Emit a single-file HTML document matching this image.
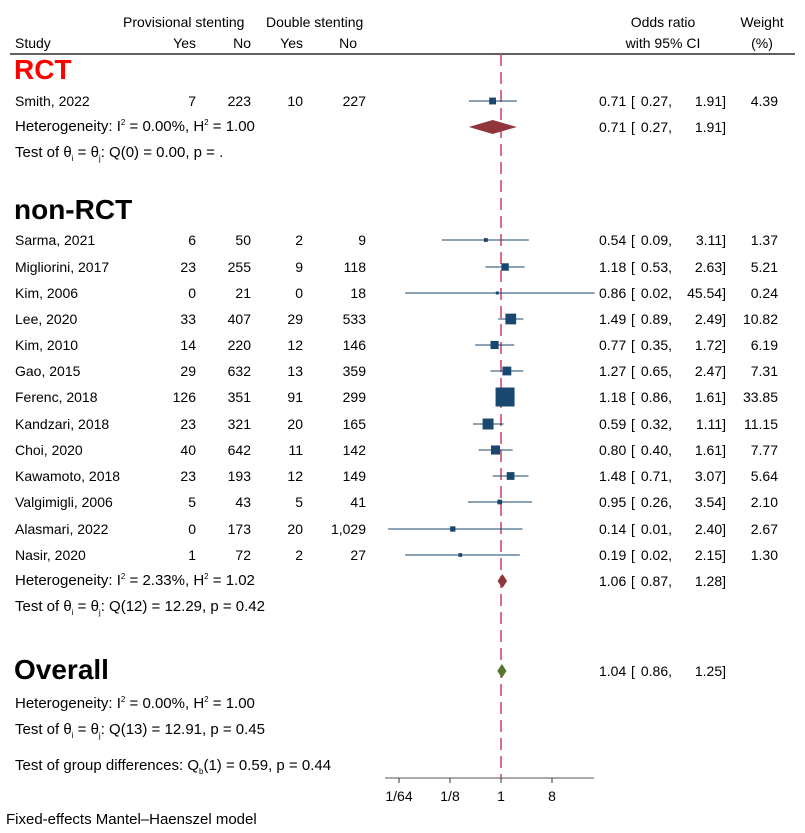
<!DOCTYPE html>
<html><head><meta charset="utf-8"><style>
body{margin:0;background:#fff}
svg{display:block;font-family:"Liberation Sans",Arial,sans-serif}
</style></head><body>
<svg id="c" width="805" height="833" font-size="14" fill="#000">
<g>
<text x="123" y="27">Provisional stenting</text>
<text x="266" y="27">Double stenting</text>
<text x="15" y="48">Study</text>
<text x="196" y="48" text-anchor="end">Yes</text>
<text x="251" y="48" text-anchor="end">No</text>
<text x="303" y="48" text-anchor="end">Yes</text>
<text x="357" y="48" text-anchor="end">No</text>
<text x="663" y="27" text-anchor="middle">Odds ratio</text>
<text x="663" y="48" text-anchor="middle">with 95% CI</text>
<text x="762" y="27" text-anchor="middle">Weight</text>
<text x="762" y="48" text-anchor="middle">(%)</text>
<line x1="10" y1="54" x2="795" y2="54" stroke="#000" stroke-width="1.2"/>
</g>
<g id="marks"></g>
<g id="txt"></g>
</svg>
<script>
const studies=["Smith, 2022","Sarma, 2021","Migliorini, 2017","Kim, 2006","Lee, 2020","Kim, 2010","Gao, 2015","Ferenc, 2018","Kandzari, 2018","Choi, 2020","Kawamoto, 2018","Valgimigli, 2006","Alasmari, 2022","Nasir, 2020"];
const psYes=[7,6,23,0,33,14,29,126,23,40,23,5,0,1];
const psNo=[223,50,255,21,407,220,632,351,321,642,193,43,173,72];
const dsYes=[10,2,9,0,29,12,13,91,20,11,12,5,20,2];
const dsNo=[227,9,118,18,533,146,359,299,165,142,149,41,1029,27];
const orVal=[0.71,0.54,1.18,0.86,1.49,0.77,1.27,1.18,0.59,0.80,1.48,0.95,0.14,0.19];
const lo=[0.27,0.09,0.53,0.02,0.89,0.35,0.65,0.86,0.32,0.40,0.71,0.26,0.01,0.02];
const hi=[1.91,3.11,2.63,45.54,2.49,1.72,2.47,1.61,1.11,1.61,3.07,3.54,2.40,2.15];
const weight=[4.39,1.37,5.21,0.24,10.82,6.19,7.31,33.85,11.15,7.77,5.64,2.10,2.67,1.30];
const pooledLabels=["RCT","non-RCT","Overall"];
const pooledOR=[0.71,1.06,1.04];
const pooledLo=[0.27,0.87,0.86];
const pooledHi=[1.91,1.28,1.25];
const tickVals=[1/64,1/8,1,8];
const tickLabels=["1/64","1/8","1","8"];
const NS="http://www.w3.org/2000/svg";
const x=v=>501+17*Math.log2(v);
const mk=document.getElementById('marks'),tx=document.getElementById('txt');
function el(t,a,p,txt){const e=document.createElementNS(NS,t);for(const k in a)e.setAttribute(k,a[k]);if(txt!==undefined)e.textContent=txt;p.appendChild(e);return e;}
let nl=el('line',{x1:x(1),x2:x(1),y1:54,y2:778,stroke:'#cf4a73','stroke-width':1.6,'stroke-dasharray':'12,6'},mk);


function orText(v,l,h,y){
 let t1=el('text',{x:599,y:y},tx,v.toFixed(2));
 
 
 let tb=el('text',{x:631,y:y},tx,'[');
 
 
 let t2=el('text',{x:672,y:y,'text-anchor':'end'},tx,l.toFixed(2)+',');
 
 
 let t3=el('text',{x:726,y:y,'text-anchor':'end'},tx,h.toFixed(2)+']');
 
 
}
const rowY=[101,240,267,293,319,345,371,397,424,450,476,502,529,555];
const fmt=n=>n.toLocaleString('en-US');
studies.forEach((s,i)=>{
 const y=rowY[i];
 let e=el('text',{x:15,y:y+5},tx,s);
 
 
 [[psYes,196],[psNo,251],[dsYes,303],[dsNo,366]].forEach(([a,cx])=>{
  let t=el('text',{x:cx,y:y+5,'text-anchor':'end'},tx,fmt(a[i]));
  
  
 });
 orText(orVal[i],lo[i],hi[i],y+5);
 let t4=el('text',{x:778,y:y+5,'text-anchor':'end'},tx,weight[i].toFixed(2));
 
 
 let l=el('line',{x1:x(lo[i]),x2:x(hi[i]),y1:y,y2:y,stroke:'#1a476f','stroke-width':1},mk);
 
 
 const sz=Math.max(3,19*Math.sqrt(weight[i]/33.85));
 let r=el('rect',{x:x(orVal[i])-sz/2,y:y-sz/2,width:sz,height:sz,fill:'#1a476f'},mk);
 
 
});
const pooledY=[127,581,671];
const dCol=['#90353b','#90353b','#55752f'];
pooledLabels.forEach((p,i)=>{
 const y=pooledY[i];
 let d=el('polygon',{points:`${x(pooledLo[i])},${y} ${x(pooledOR[i])},${y-7} ${x(pooledHi[i])},${y} ${x(pooledOR[i])},${y+7}`,fill:dCol[i]},mk);
 
 
 orText(pooledOR[i],pooledLo[i],pooledHi[i],y+5);
});
let ax=el('line',{x1:385,x2:594,y1:778,y2:778,stroke:'#777','stroke-width':1.2},mk);


tickVals.forEach((v,i)=>{
 let tk=el('line',{x1:x(v),x2:x(v),y1:778,y2:783,stroke:'#333'},mk);
 
 
 let tl=el('text',{x:x(v),y:801,'text-anchor':'middle'},tx,tickLabels[i]);
 
 
});
</script>
<div style="position:absolute;left:0;top:0;width:805px;height:833px;font-family:'Liberation Sans',Arial,sans-serif;font-size:15px;pointer-events:none">
<div style="position:absolute;left:14px;top:54px;font-size:28px;font-weight:bold;color:#f00">RCT</div>
<div style="position:absolute;left:15px;top:118px">Heterogeneity: I<sup style="font-size:8px">2</sup> = 0.00%, H<sup style="font-size:8px">2</sup> = 1.00</div>
<div style="position:absolute;left:15px;top:144px">Test of θ<sub style="font-size:8px">i</sub> = θ<sub style="font-size:8px">j</sub>: Q(0) = 0.00, p = .</div>
<div style="position:absolute;left:14px;top:194px;font-size:28px;font-weight:bold">non-RCT</div>
<div style="position:absolute;left:15px;top:572px">Heterogeneity: I<sup style="font-size:8px">2</sup> = 2.33%, H<sup style="font-size:8px">2</sup> = 1.02</div>
<div style="position:absolute;left:15px;top:598px">Test of θ<sub style="font-size:8px">i</sub> = θ<sub style="font-size:8px">j</sub>: Q(12) = 12.29, p = 0.42</div>
<div style="position:absolute;left:14px;top:654px;font-size:28px;font-weight:bold">Overall</div>
<div style="position:absolute;left:15px;top:695px">Heterogeneity: I<sup style="font-size:8px">2</sup> = 0.00%, H<sup style="font-size:8px">2</sup> = 1.00</div>
<div style="position:absolute;left:15px;top:721px">Test of θ<sub style="font-size:8px">i</sub> = θ<sub style="font-size:8px">j</sub>: Q(13) = 12.91, p = 0.45</div>
<div style="position:absolute;left:15px;top:757px">Test of group differences: Q<sub style="font-size:8px">b</sub>(1) = 0.59, p = 0.44</div>
<div style="position:absolute;left:6px;top:811px">Fixed-effects Mantel–Haenszel model</div>
</div>
</body></html>
